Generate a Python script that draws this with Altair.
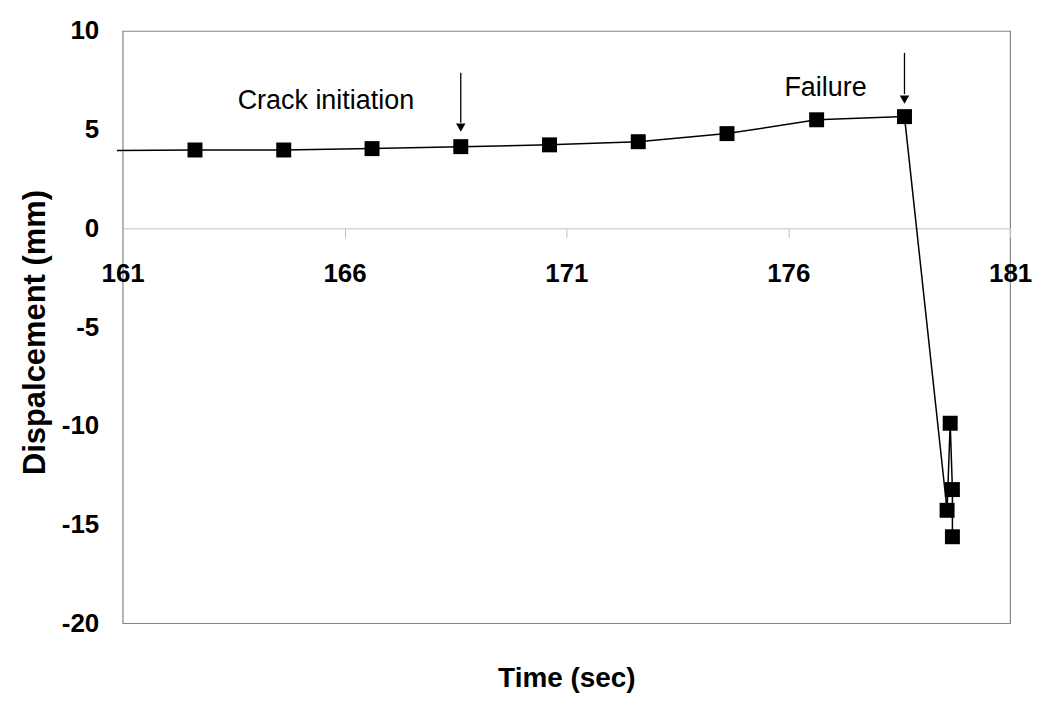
import altair as alt
import pandas as pd

# ---- data ----
time_s = [160.87, 162.63, 164.63, 166.62, 168.62, 170.62, 172.62, 174.62, 176.64,
          178.62, 179.58, 179.65, 179.70, 179.70]
disp_mm = [3.94, 3.97, 3.97, 4.04, 4.14, 4.23, 4.39, 4.80, 5.50,
           5.66, -14.28, -9.87, -13.23, -15.62]
has_marker = [False] + [True] * 13

x_ticks = [161, 166, 171, 176, 181]
y_ticks = [-20, -15, -10, -5, 0, 5, 10]

ann_text = ["Crack initiation", "Failure"]
ann_text_x = [165.58, 176.84]
ann_text_y = [6.06, 6.72]

arrow_x = [168.62, 178.62]
arrow_top = [7.88, 8.89]
arrow_bottom = [5.35, 6.80]
arrow_head = [5.10, 6.52]

# ---- tables ----
df = pd.DataFrame({"t": time_s, "d": disp_mm, "m": has_marker,
                   "o": list(range(len(time_s)))})
df_pts = df[df["m"]]
df_txt = pd.DataFrame({"label": ann_text, "x": ann_text_x, "y": ann_text_y})
df_arr = pd.DataFrame({"x": arrow_x, "y": arrow_top, "y2": arrow_bottom,
                       "yh": arrow_head})

FONT = "Liberation Sans"
GRID = "#bfbfbf"

xscale = alt.Scale(domain=[161, 181], nice=False, zero=False)
yscale = alt.Scale(domain=[-20, 10], nice=False, zero=False)

xaxis = alt.Axis(values=x_ticks, offset=-396, domainColor=GRID, tickColor=GRID,
                 tickSize=9, labelFont=FONT, labelFontSize=26, labelFontWeight="bold",
                 labelColor="black", labelPadding=23, labelFlush=False, grid=False,
                 labelExpr="'' + datum.value",
                 title="Time (sec)", titleFont=FONT, titleFontSize=28,
                 titleFontWeight="bold", titleColor="black",
                 titleBaseline="alphabetic", titleY=459)
yaxis = alt.Axis(values=y_ticks, domain=False, ticks=False, labelFont=FONT,
                 labelFontSize=26, labelFontWeight="bold", labelColor="black",
                 labelPadding=24, labelFlush=False, grid=False,
                 labelExpr="'' + datum.value",
                 title="Dispalcement (mm)", titleFont=FONT, titleFontSize=31,
                 titleFontWeight="bold", titleColor="black",
                 titleBaseline="alphabetic", titleX=-78, titleY=302, titleAngle=-90)

line = alt.Chart(df).mark_line(color="black", strokeWidth=1.5).encode(
    x=alt.X("t:Q", scale=xscale, axis=xaxis),
    y=alt.Y("d:Q", scale=yscale, axis=yaxis),
    order="o:Q",
)
pts = alt.Chart(df_pts).mark_square(color="black", size=225, opacity=1).encode(
    x=alt.X("t:Q", scale=xscale),
    y=alt.Y("d:Q", scale=yscale),
)
txt = alt.Chart(df_txt).mark_text(font=FONT, fontSize=27, color="black",
                                  align="center", baseline="alphabetic").encode(
    x=alt.X("x:Q", scale=xscale),
    y=alt.Y("y:Q", scale=yscale),
    text="label:N",
)
shaft = alt.Chart(df_arr).mark_rule(color="black", strokeWidth=1.3).encode(
    x=alt.X("x:Q", scale=xscale),
    y=alt.Y("y:Q", scale=yscale),
    y2="y2:Q",
)
head = alt.Chart(df_arr).mark_point(shape="triangle-down", filled=True, color="black",
                                    size=90, opacity=1).encode(
    x=alt.X("x:Q", scale=xscale),
    y=alt.Y("yh:Q", scale=yscale),
)

chart = alt.layer(line, pts, shaft, head, txt).properties(
    width=890, height=594,
    autosize=alt.AutoSizeParams(type="none"),
    padding={"left": 115, "top": 22, "right": 32, "bottom": 80},
    background="white",
).configure_view(stroke="#858585", strokeWidth=1.2)

chart.save("out.html", embed_options={"renderer": "svg", "actions": False})
